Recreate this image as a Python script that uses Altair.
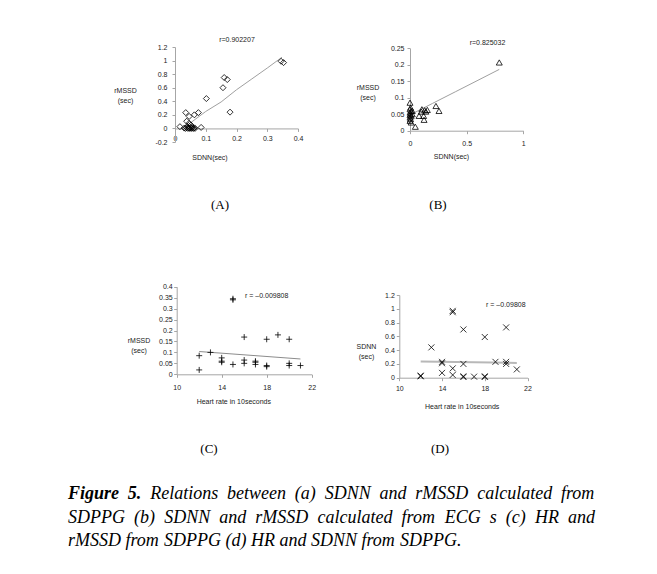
import altair as alt
import pandas as pd

# ---------------- data ----------------
# (A) SDNN vs rMSSD from SDPPG
sdnn_a = [0.345, 0.353, 0.156, 0.160, 0.170, 0.102, 0.179, 0.016, 0.035, 0.046, 0.063, 0.076,
          0.038, 0.046, 0.052, 0.085, 0.030, 0.034, 0.038, 0.042, 0.045, 0.048, 0.050, 0.053,
          0.056, 0.060, 0.063, 0.065, 0.040, 0.055]
rmssd_a = [0.99, 0.97, 0.60, 0.75, 0.72, 0.44, 0.24, 0.026, 0.233, 0.177, 0.20, 0.233,
           0.106, 0.076, 0.05, 0.015, 0.005, 0.0, 0.01, 0.0, 0.005, 0.0, 0.012, 0.0,
           0.004, 0.0, 0.008, 0.0, 0.03, 0.025]
trend_a_x = [0.035, 0.1, 0.15, 0.2, 0.25, 0.3, 0.348]
trend_a_y = [0.03, 0.25, 0.39, 0.57, 0.73, 0.89, 1.05]

# (B) SDNN vs rMSSD from ECG
sdnn_b = [0.788, 0.229, 0.256, 0.153, 0.080, 0.100, 0.120, 0.140, 0.124, 0.105, 0.130, 0.047,
          0.0, 0.005, 0.0, 0.010, 0.0, 0.005, 0.0, 0.010, 0.0, 0.005, 0.0, 0.010, 0.020, 0.020]
rmssd_b = [0.207, 0.075, 0.060, 0.063, 0.045, 0.058, 0.045, 0.058, 0.033, 0.065, 0.062, 0.012,
           0.085, 0.070, 0.065, 0.060, 0.055, 0.050, 0.047, 0.044, 0.040, 0.035, 0.030, 0.025,
           0.050, 0.060]
trend_b_x = [0.0, 0.2, 0.4, 0.6, 0.788]
trend_b_y = [0.048, 0.083, 0.118, 0.153, 0.186]

# (C) HR vs rMSSD from SDPPG
hr_c = [12, 12, 13, 14, 14, 14, 15, 15, 15, 16, 16, 16, 17, 17, 17, 18, 18, 18, 19, 20, 20, 20, 21]
rmssd_c = [0.02, 0.085, 0.10, 0.075, 0.06, 0.055, 0.045, 0.34, 0.345, 0.17, 0.065, 0.05, 0.06,
           0.055, 0.045, 0.16, 0.04, 0.035, 0.18, 0.16, 0.05, 0.04, 0.04]
trend_c_x = [12, 21]
trend_c_y = [0.104, 0.07]

# (D) HR vs SDNN from SDPPG
hr_d = [12, 12, 13, 14, 14, 14, 15, 15, 15, 15, 16, 16, 16, 16, 17, 18, 18, 18, 19, 20, 20, 20, 21]
sdnn_d = [0.02, 0.03, 0.44, 0.23, 0.21, 0.07, 0.97, 0.95, 0.135, 0.04, 0.70, 0.20, 0.02, 0.01,
          0.015, 0.59, 0.02, 0.01, 0.23, 0.73, 0.23, 0.20, 0.12]
trend_d_x = [12, 21]
trend_d_y = [0.235, 0.215]

panel_labels = ["(A)", "(B)", "(C)", "(D)"]
r_texts = ["r=0.902207", "r=0.825032", "r = \u20130.009808", "r = \u20130.09808"]
caption_lines = [
    "Figure 5. Relations between (a) SDNN and rMSSD calculated from",
    "SDPPG (b) SDNN and rMSSD calculated from ECG s (c) HR and",
    "rMSSD from SDPPG (d) HR and SDNN from SDPPG.",
]

# ---------------- layout ----------------
W, H = 657, 574
FONT = "Liberation Sans"
AXC = "#a6a6a6"
TXT = "#222222"


def make_panel(xv, yv, tx, ty, shape, xdom, xrng, ydom, yrng, xticks, yticks,
               xtitle, ytitle, xtitle_pos, ytitle_pos, rtext, rpos,
               xpad, ypad, line_color, line_width):
    # pixel of value 0 on y / x for axis crossing
    y0 = yrng[0] + (0 - ydom[0]) / (ydom[1] - ydom[0]) * (yrng[1] - yrng[0])
    x0 = xrng[0]
    xs = alt.Scale(domain=xdom, range=xrng, nice=False, zero=False)
    ys = alt.Scale(domain=ydom, range=yrng, nice=False, zero=False)
    common = dict(grid=False, domainColor=AXC, tickColor=AXC, tickSize=3, domainWidth=1,
                  labelFont=FONT, labelFontSize=7, labelColor=TXT, labelFlush=False,
                  labelOverlap=False, format="~g",
                  labelExpr="replace(datum.label, '\u2212', '-')",
                  titleFont=FONT, titleFontSize=7, titleFontWeight="normal", titleColor=TXT,
                  titleAngle=0, titleAlign="center", titleBaseline="middle", titleLineHeight=10)
    xa = alt.Axis(orient="bottom", values=xticks, offset=y0 - H, title=xtitle,
                  titleX=xtitle_pos[0], titleY=xtitle_pos[1] - y0, labelPadding=xpad, **common)
    ya = alt.Axis(orient="left", values=yticks, offset=-x0, title=ytitle,
                  titleX=ytitle_pos[0] - x0, titleY=ytitle_pos[1], labelPadding=ypad, **common)
    tr = pd.DataFrame({"x": tx, "y": ty})
    pts = pd.DataFrame({"x": xv, "y": yv})
    line = alt.Chart(tr).mark_line(color=line_color, strokeWidth=line_width).encode(
        x=alt.X("x:Q", scale=xs, axis=xa), y=alt.Y("y:Q", scale=ys, axis=ya))
    points = alt.Chart(pts).mark_point(shape=shape, filled=False, color="black", size=36,
                                       strokeWidth=0.8, opacity=1).encode(
        x=alt.X("x:Q", scale=xs, axis=xa), y=alt.Y("y:Q", scale=ys, axis=ya))
    rt = alt.Chart(pd.DataFrame({"t": [rtext]})).mark_text(
        font=FONT, fontSize=7, color=TXT, align="center", baseline="middle").encode(
        x=alt.value(rpos[0]), y=alt.value(rpos[1]), text="t:N")
    return alt.layer(line, points, rt)


pA = make_panel(sdnn_a, rmssd_a, trend_a_x, trend_a_y, "diamond",
                [0, 0.4], [175, 298], [-0.2, 1.2], [142, 47],
                [0, 0.1, 0.2, 0.3, 0.4], [-0.2, 0, 0.2, 0.4, 0.6, 0.8, 1, 1.2],
                "SDNN(sec)", ["rMSSD", "(sec)"], (209.5, 157), (125, 90),
                r_texts[0], (237, 40), 3.5, 5, "#a0a0a0", 1)
pB = make_panel(sdnn_b, rmssd_b, trend_b_x, trend_b_y, "triangle-up",
                [0, 1], [410, 523.3], [0, 0.25], [130.7, 48.3],
                [0, 0.5, 1], [0, 0.05, 0.1, 0.15, 0.2, 0.25],
                "SDNN(sec)", ["rMSSD", "(sec)"], (451, 156.7), (367.5, 87),
                r_texts[1], (487.5, 43.3), 6, 3, "#a0a0a0", 1)
pC = make_panel(hr_c, rmssd_c, trend_c_x, trend_c_y, "M-1,0L1,0M0,-1L0,1",
                [10, 22], [176.7, 311.7], [0, 0.4], [374.3, 286.7],
                [10, 14, 18, 22], [0, 0.05, 0.1, 0.15, 0.2, 0.25, 0.3, 0.35, 0.4],
                "Heart rate in 10seconds", ["rMSSD", "(sec)"], (233.3, 401), (138.5, 340),
                r_texts[2], (266.7, 295.7), 6, 1.5, "#8c8c8c", 1)
pD = make_panel(hr_d, sdnn_d, trend_d_x, trend_d_y, "M-1,-1L1,1M-1,1L1,-1",
                [10, 22], [399.3, 527.5], [0, 1.2], [377.7, 295],
                [10, 14, 18, 22], [0, 0.2, 0.4, 0.6, 0.8, 1, 1.2],
                "Heart rate in 10seconds", ["SDNN", "(sec)"], (461.7, 406.7), (366, 346),
                r_texts[3], (505.8, 305), 4, 2, "#b8b8b8", 2)

# panel letters
label_pos = [(220, 205), (438, 205), (209, 449), (440, 449)]
letters = []
for lab, (lx, ly) in zip(panel_labels, label_pos):
    letters.append(
        alt.Chart(pd.DataFrame({"t": [lab]})).mark_text(
            font="Liberation Serif", fontSize=13, color="black", align="center",
            baseline="middle").encode(x=alt.value(lx), y=alt.value(ly), text="t:N"))

# caption: justified italic serif text (word positions computed from font metrics)
CAP = 18
IT = {' ': 250, '(': 333, ')': 333, '.': 250, '5': 500, 'A': 611, 'C': 667, 'D': 722, 'E': 611,
      'F': 611, 'G': 722, 'H': 722, 'M': 833, 'N': 667, 'P': 611, 'R': 611, 'S': 500, 'a': 500,
      'b': 500, 'c': 444, 'd': 500, 'e': 444, 'f': 278, 'g': 500, 'h': 500, 'i': 278, 'l': 278,
      'm': 722, 'n': 500, 'o': 500, 'r': 389, 's': 389, 't': 278, 'u': 500, 'w': 667}
BI = {'F': 667, 'i': 278, 'g': 500, 'u': 556, 'r': 389, 'e': 444, '5': 500, '.': 250}
LEFT, RIGHT = 68, 595
BASES = [499, 522.5, 546]
rows = []
for li, line in enumerate(caption_lines):
    toks = line.split(" ")
    bold = [li == 0 and ti < 2 for ti in range(len(toks))]
    widths = [sum((BI if b else IT).get(c, 500) for c in t) / 1000 * CAP for t, b in zip(toks, bold)]
    if li < len(caption_lines) - 1:
        gap = (RIGHT - LEFT - sum(widths)) / (len(toks) - 1)
    else:
        gap = 0.25 * CAP
    x = LEFT
    for t, w, b in zip(toks, widths, bold):
        rows.append({"w": t, "px": x, "py": BASES[li], "bold": b})
        x += w + gap
cap_df = pd.DataFrame(rows)
cap_it = alt.Chart(cap_df[~cap_df["bold"]]).mark_text(
    font="Liberation Serif", fontSize=CAP, fontStyle="italic", color="black", align="left",
    baseline="alphabetic").encode(
    x=alt.X("px:Q", scale=None), y=alt.Y("py:Q", scale=None), text="w:N")
cap_bd = alt.Chart(cap_df[cap_df["bold"]]).mark_text(
    font="Liberation Serif", fontSize=CAP, fontStyle="italic", fontWeight="bold", color="black",
    align="left", baseline="alphabetic").encode(
    x=alt.X("px:Q", scale=None), y=alt.Y("py:Q", scale=None), text="w:N")

chart = alt.layer(pA, pB, pC, pD, *letters, cap_it, cap_bd).resolve_scale(
    x="independent", y="independent").resolve_axis(
    x="independent", y="independent").properties(
    width=W, height=H, padding=0, autosize=alt.AutoSizeParams(type="none"),
    background="white").configure_view(stroke=None)

chart.save("out.html", embed_options={"renderer": "svg", "actions": False})
